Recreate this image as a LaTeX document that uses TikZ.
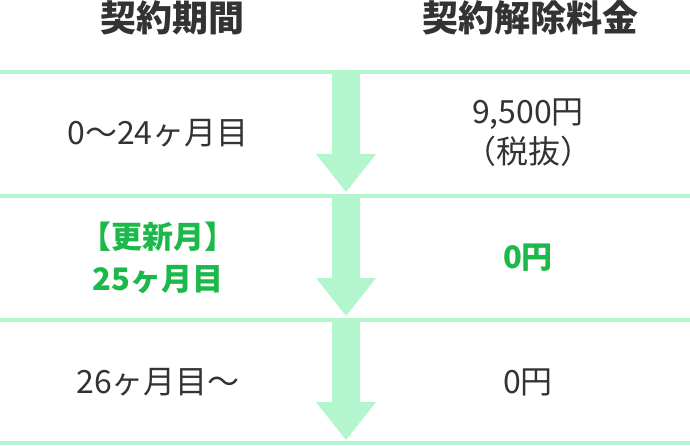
\documentclass[tikz,border=0pt]{standalone}
\usepackage{fontspec}
\setmainfont{Noto Sans CJK JP}
\definecolor{lg}{HTML}{B3F5CC}
\definecolor{tx}{HTML}{333333}
\definecolor{gr}{HTML}{1DB84A}
\begin{document}
\begin{tikzpicture}[x=1pt,y=-1pt,
  hd/.style={font=\fontsize{36}{40}\selectfont\bfseries, text=tx},
  bd/.style={font=\fontsize{32}{40}\selectfont, text=tx, align=center},
  gb/.style={font=\fontsize{31}{42}\selectfont\bfseries, text=gr, align=center},
  sep/.style={draw=lg, line width=4pt},
  arr/.style={fill=lg}]
\useasboundingbox (0,0) rectangle (690,446);
\node[hd] (h1) at (172,18) {契約期間};
\node[hd] (h2) at (530,18) {契約解除料金};
\foreach \y in {72,196,320,443} \draw[sep] (0,\y) -- (690,\y);
\foreach \t in {72,196,320}
  \fill[arr] (332,\t) -- (360,\t) -- (360,\t+82) -- (376,\t+82) -- (346,\t+120) -- (316,\t+82) -- (332,\t+82) -- cycle;
\node[bd] (a1) at (158,133) {0〜24ヶ月目};
\node[bd] (b1) at (528,133) {9,500円\\（税抜）};
\node[gb] (a2) at (158,258) {【更新月】\\25ヶ月目};
\node[gb] (b2) at (528,258) {0円};
\node[bd] (a3) at (158,382) {26ヶ月目〜};
\node[bd] (b3) at (528,382) {0円};
\end{tikzpicture}
\end{document}
